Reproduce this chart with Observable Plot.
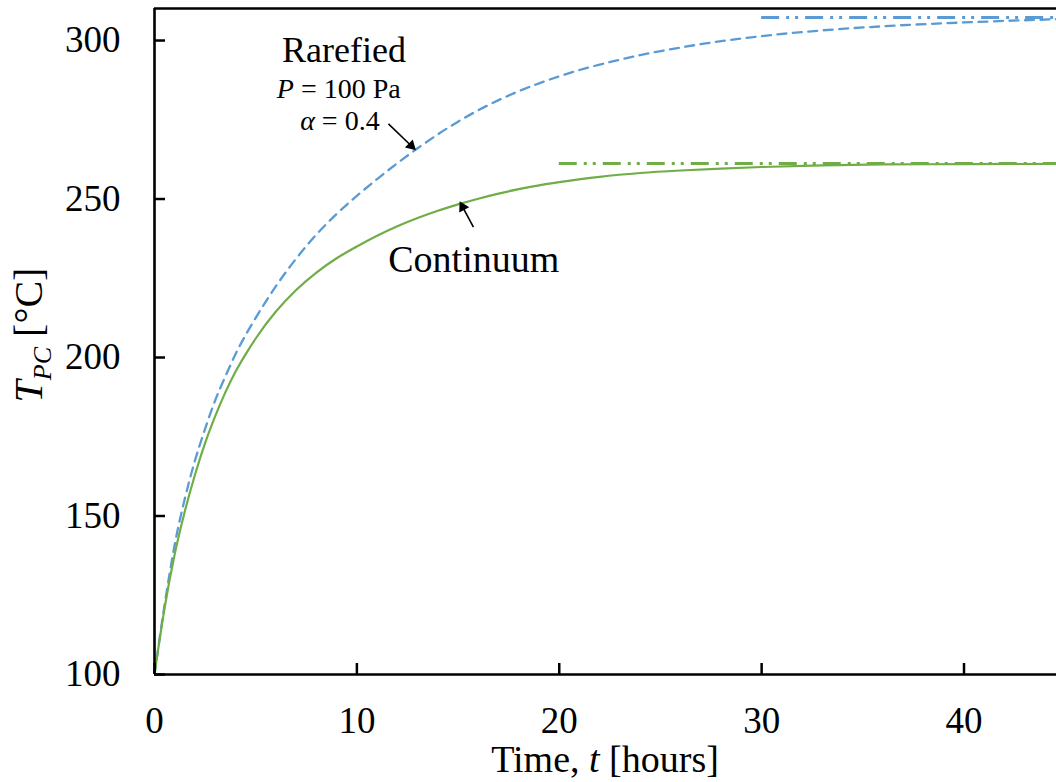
<!DOCTYPE html>
<html><head><meta charset="utf-8">
<script src="https://cdn.jsdelivr.net/npm/d3@7"></script>
<script src="https://cdn.jsdelivr.net/npm/@observablehq/plot@0.6"></script>
<style>html,body{margin:0;padding:0;background:#fff}svg{display:block}</style>
</head><body><div id="chart"></div>
<script>
// ---- data ----
const timeContinuum = [0,0.5,1,1.5,2,2.5,3,3.5,4,4.5,5,6,7,8,9,10,11,12,13,14,15,16,17,18,19,20,22,24,26,28,30,33,36,40,45];
const tempContinuum = [100,121,138,151.5,163,173,181.5,189,195.5,201,206,214.5,221.3,226.8,231.3,235,238.4,241.4,244,246.3,248.3,250.1,251.7,253.1,254.3,255.3,257,258.2,259,259.6,260.1,260.6,260.9,261,261.1];
const timeRarefied = [0,0.5,1,1.5,2,2.5,3,3.5,4,5,6,7,8,9,10,11,12,13,14,15,16,17,18,19,20,21,22,24,26,28,30,33,36,40,45];
const tempRarefied = [100,122,141,155.5,167.5,177.5,186.5,194,201,212.5,222.5,231.2,238.8,245.3,251,256.3,261.3,266,270.4,274.4,278,281.2,284,286.5,288.7,290.7,292.4,295.4,297.8,299.8,301.4,303.2,304.5,305.7,306.8];
const steadyNames = ["Continuum", "Rarefied"];
const steadyTemps = [261.2, 307.3];
const steadyStart = [20, 30];
const xTicks = [0, 10, 20, 30, 40];
const yTicks = [100, 150, 200, 250, 300];

// ---- layout ----
const W = 1056, H = 782, mL = 154, mR = 0, mT = 8, mB = 108;
const xMax = 44.57, yMin = 100, yMax = 310.1;
const FONT = "'Liberation Serif', 'Times New Roman', serif";
const BLUE = "#5b9bd5", GREEN = "#70ad47";
const kx = (W - mL - mR) / xMax, ky = (H - mT - mB) / (yMax - yMin);

const continuum = timeContinuum.map((t, i) => ({t, T: tempContinuum[i]}));
const rarefied = timeRarefied.map((t, i) => ({t, T: tempRarefied[i]}));
const steady = steadyNames.map((n, i) => ({n, T: steadyTemps[i], x1: steadyStart[i], x2: xMax}));
const arrows = [
  {x1: 11.56, y1: 273.7, x2: 12.88, y2: 265.6},
  {x1: 15.76, y1: 241.1, x2: 15.1, y2: 249.0}
].map(a => {
  const dx = (a.x2 - a.x1) * kx, dy = -(a.y2 - a.y1) * ky;
  const len = Math.hypot(dx, dy), ux = dx / len, uy = dy / len;
  const back = 5.5;
  return {...a,
    hx: a.x2 - back * ux / kx, hy: a.y2 + back * uy / ky,
    angle: Math.atan2(dx, -dy) * 180 / Math.PI};
});

const svg = Plot.plot({
  width: W, height: H,
  marginLeft: mL, marginRight: mR, marginTop: mT, marginBottom: mB,
  style: {fontFamily: FONT, background: "#fff", color: "#000"},
  x: {domain: [0, xMax], label: null},
  y: {domain: [yMin, yMax], label: null},
  marks: [
    Plot.ruleY(steady, {y: "T", x1: "x1", x2: "x2", stroke: d => d.n === "Rarefied" ? BLUE : GREEN, strokeWidth: 3, strokeDasharray: "18,7,3,6,3,7"}),
    Plot.line(rarefied, {x: "t", y: "T", stroke: BLUE, strokeWidth: 2.3, strokeDasharray: "9,6.5", curve: "monotone-x", clip: true}),
    Plot.line(continuum, {x: "t", y: "T", stroke: GREEN, strokeWidth: 2.2, curve: "monotone-x", clip: true}),
    Plot.link(arrows, {x1: "x1", y1: "y1", x2: "hx", y2: "hy", stroke: "#000", strokeWidth: 1.6}),
    Plot.dot(arrows, {x: "hx", y: "hy", symbol: "triangle", r: 4.2, fill: "#000", stroke: "none", rotate: "angle"}),
    Plot.tickY(yTicks, {y: d => d, stroke: "#000", strokeWidth: 2.5, insetRight: (W - mL - mR) - 11}),
    Plot.tickX(xTicks, {x: d => d, stroke: "#000", strokeWidth: 2.5, insetTop: (H - mT - mB) - 11}),
    Plot.ruleX([0], {stroke: "#000", strokeWidth: 2.6}),
    Plot.ruleY([yMin], {stroke: "#000", strokeWidth: 2.6}),
    Plot.ruleY([yMax], {stroke: "#000", strokeWidth: 2.6}),
    Plot.axisY({ticks: yTicks, tickSize: 0, tickPadding: 34, fontSize: 37, label: null}),
    Plot.axisX({ticks: xTicks, tickSize: 0, tickPadding: 32, fontSize: 37, label: null})
  ]
});

const xs = svg.scale("x"), ys = svg.scale("y");
const S = d3.select(svg);
function rich(x, y, size, anchor, parts, rotate) {
  const t = S.append("text")
    .attr("font-family", FONT).attr("font-size", size).attr("fill", "#000")
    .attr("text-anchor", anchor);
  if (rotate) t.attr("transform", `translate(${x},${y}) rotate(-90)`);
  else t.attr("x", x).attr("y", y);
  for (const p of parts) {
    const ts = t.append("tspan").text(p.s);
    if (p.i) ts.attr("font-style", "italic");
    if (p.sub) ts.attr("font-size", size * 0.65).attr("dy", size * 0.22);
    if (p.up) ts.attr("dy", -size * 0.22);
  }
  return t;
}
// annotations placed via the data scales
rich(xs.apply(9.39), ys.apply(293.1), 36, "middle", [{s: "Rarefied"}]);
rich(xs.apply(9.13), ys.apply(281.6), 28, "middle", [{s: "P", i: true}, {s: " = 100 Pa"}]);
rich(xs.apply(11.15), ys.apply(271.6), 28, "end", [{s: "α", i: true}, {s: " = 0.4"}]);
rich(xs.apply(15.8), ys.apply(226.8), 38, "middle", [{s: "Continuum"}]);
// axis titles
rich(mL + (W - mL - mR) / 2, 772, 38, "middle", [{s: "Time, "}, {s: "t", i: true}, {s: " [hours]"}]);
rich(42, mT + (H - mT - mB) / 2 - 6, 40, "middle", [{s: "T", i: true}, {s: "PC", i: true, sub: true}, {s: " [°C]", up: true}], true);

document.getElementById("chart").appendChild(svg);
</script>
</body></html>
